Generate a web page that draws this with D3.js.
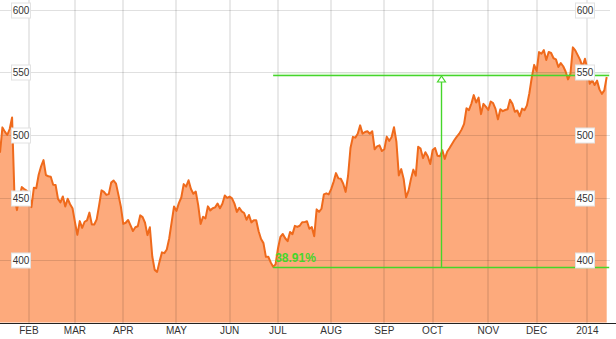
<!DOCTYPE html>
<html>
<head>
<meta charset="utf-8">
<script src="https://cdn.jsdelivr.net/npm/d3@7"></script>
<style>
html,body{margin:0;padding:0;background:#fff;}
svg{display:block;}
text{font-family:"Liberation Sans",Arial,sans-serif;}
</style>
</head>
<body>
<svg id="chart" width="616" height="339"></svg>
<script>
// Daily closing prices (trading days, mid-Jan 2013 to mid-Jan 2014)
const pricesJan13 = [485.9, 506.1, 502.7, 500.0, 504.8, 514.0, 450.5, 439.9, 449.8, 458.3, 456.8, 455.5];
const pricesFeb = [453.6, 442.3, 457.8, 457.4, 468.2, 475.0, 479.9, 467.9, 467.0, 466.6, 460.2, 460.0, 448.9, 446.1, 450.8, 442.8, 449.0, 444.6, 441.4];
const pricesMar = [430.5, 420.1, 431.1, 425.7, 430.6, 431.7, 437.9, 428.4, 428.4, 432.5, 443.7, 455.7, 454.5, 452.1, 452.7, 461.9, 463.6, 461.1, 452.1, 442.7];
const pricesApr = [428.9, 429.8, 432.0, 427.7, 423.2, 426.2, 427.0, 435.7, 434.3, 429.8, 419.9, 426.2, 402.8, 392.1, 390.5, 398.7, 406.1, 405.5, 408.4, 417.2, 430.1, 442.8];
const pricesMay = [439.3, 445.5, 450.0, 460.7, 458.7, 463.8, 456.8, 453.0, 454.7, 443.9, 428.9, 434.6, 433.3, 442.9, 439.7, 441.4, 442.1, 445.2, 441.4, 445.0, 451.6, 449.7];
const pricesJun = [450.7, 449.3, 445.1, 438.5, 441.8, 438.9, 437.6, 432.2, 436.0, 430.1, 431.8, 431.8, 423.0, 416.8, 413.5, 402.5, 402.6, 398.1, 394.6, 396.5];
const pricesJul = [409.2, 418.5, 420.8, 417.4, 415.1, 422.4, 420.7, 427.3, 426.5, 427.4, 430.2, 430.3, 431.0, 425.0, 426.3, 419.0, 440.5, 438.5, 441.0, 452.5, 453.3, 452.5];
const pricesAug = [456.7, 462.5, 469.5, 465.3, 465.0, 461.0, 454.5, 467.4, 489.6, 498.5, 497.9, 501.0, 507.7, 501.1, 502.4, 503.0, 501.0, 503.0, 488.6, 490.9, 491.7, 487.2];
const pricesSep = [488.6, 498.7, 495.3, 498.2, 506.2, 494.6, 467.7, 472.7, 464.9, 450.1, 455.3, 464.7, 472.3, 467.4, 490.6, 489.1, 481.5, 486.2, 482.8, 476.8];
const pricesOct = [488.0, 489.6, 483.4, 483.0, 487.8, 480.9, 486.6, 489.6, 492.8, 496.0, 498.7, 501.1, 504.5, 508.9, 521.4, 519.9, 525.0, 531.9, 526.0, 529.9, 516.7, 524.9, 522.7];
const pricesNov = [520.0, 526.8, 525.5, 520.9, 512.5, 520.6, 519.1, 520.0, 520.6, 528.2, 525.0, 518.6, 519.6, 515.0, 521.1, 519.8, 523.7, 533.4, 546.0, 556.1];
const pricesDec = [551.2, 566.3, 565.0, 567.9, 560.0, 566.4, 565.6, 561.4, 560.5, 554.4, 557.5, 555.0, 550.8, 544.5, 549.0, 570.1, 567.7, 563.9, 560.1, 554.5, 561.0];
const pricesJan14 = [553.1, 541.0, 543.9, 540.0, 543.5, 536.5, 532.9, 535.7, 546.4];

// Month ticks: label and index of first trading day of that month
const monthLabels = ["FEB", "MAR", "APR", "MAY", "JUN", "JUL", "AUG", "SEP", "OCT", "NOV", "DEC", "2014"];
const monthStartIndex = [12, 31, 51, 73, 95, 115, 137, 159, 179, 202, 222, 243];

// Y ticks
const yTicks = [400, 450, 500, 550, 600];

// Annotation (July low to latest level)
const annotStartIndex = 113;
const annotLow = 394.6;
const annotHigh = 548.1;
const annotLabel = "38.91%";

const prices = [].concat(pricesJan13, pricesFeb, pricesMar, pricesApr, pricesMay, pricesJun,
  pricesJul, pricesAug, pricesSep, pricesOct, pricesNov, pricesDec, pricesJan14);

const W = 616, H = 339;
const svg = d3.select("#chart");

const x = d3.scaleLinear().domain([0, prices.length - 1]).range([0, 606.7]);
const y = d3.scaleLinear().domain([350, 600]).range([322.5, 10]);

// Area fill
const area = d3.area().x((d, i) => x(i)).y0(y(350)).y1(d => y(d));
svg.append("path").datum(prices).attr("d", area).attr("fill", "#fdaa7c");

// Gridlines
const grid = svg.append("g");
grid.selectAll("line.v").data(monthStartIndex).enter().append("line")
  .attr("x1", d => Math.round(x(d))).attr("x2", d => Math.round(x(d)))
  .attr("y1", 0).attr("y2", 323)
  .attr("stroke", "rgba(0,0,0,0.085)").attr("stroke-width", 2);
grid.selectAll("line.h").data(yTicks).enter().append("line")
  .attr("x1", 0).attr("x2", 610)
  .attr("y1", d => Math.round(y(d)) + 0.5).attr("y2", d => Math.round(y(d)) + 0.5)
  .attr("stroke", "rgba(0,0,0,0.12)").attr("stroke-width", 1);

// Price line
const line = d3.line().x((d, i) => x(i)).y(d => y(d));
svg.append("path").datum(prices).attr("d", line)
  .attr("fill", "none").attr("stroke", "#ef6a1c").attr("stroke-width", 2)
  .attr("stroke-linejoin", "round");

// Bottom axis line
svg.append("line").attr("x1", 0).attr("x2", W).attr("y1", 323.5).attr("y2", 323.5)
  .attr("stroke", "#222").attr("stroke-width", 1);

// Month labels
svg.selectAll("text.month").data(monthStartIndex).enter().append("text")
  .attr("x", d => x(d)).attr("y", 334)
  .attr("text-anchor", "middle").attr("font-size", 10).attr("fill", "#333")
  .text((d, i) => monthLabels[i]);

// Annotation
const green = "#45d62a";
const ax0 = x(annotStartIndex), ax1 = x(prices.length - 1) + 2.5;
const axm = (ax0 + ax1) / 2;
const yLo = Math.round(y(annotLow)) + 0.5, yHi = Math.round(y(annotHigh)) + 0.5;
const ann = svg.append("g");
ann.append("rect").attr("x", ax0).attr("y", yHi - 3).attr("width", ax1 - ax0).attr("height", 3)
  .attr("fill", "rgba(69,214,42,0.12)");
ann.append("line").attr("x1", ax0).attr("x2", ax1).attr("y1", yHi).attr("y2", yHi)
  .attr("stroke", green).attr("stroke-width", 1.4);
ann.append("line").attr("x1", ax0).attr("x2", ax1).attr("y1", yLo).attr("y2", yLo)
  .attr("stroke", green).attr("stroke-width", 1.4);
const ta = Math.round(axm) + 0.5;
ann.append("line").attr("x1", ta).attr("x2", ta)
  .attr("y1", yLo).attr("y2", yHi + 6)
  .attr("stroke", green).attr("stroke-width", 1.4);
ann.append("path")
  .attr("d", `M${ta},${yHi + 0.5} L${ta - 4},${yHi + 6.5} L${ta + 4},${yHi + 6.5} Z`)
  .attr("fill", "#fff").attr("stroke", green).attr("stroke-width", 1.2);
ann.append("text").attr("x", ax0 + 2).attr("y", yLo - 5.5)
  .attr("font-size", 12).attr("font-weight", "bold").attr("fill", green)
  .text(annotLabel);

// Y labels (boxed, both sides)
const lab = svg.append("g");
[21, 585].forEach(cx => {
  const g = lab.selectAll(null).data(yTicks).enter().append("g")
    .attr("transform", d => `translate(${cx},${Math.round(y(d))})`);
  g.append("rect").attr("x", -9.5).attr("y", -7).attr("width", 19).attr("height", 15)
    .attr("fill", "#fff").attr("stroke", "#e2e2e2").attr("stroke-width", 1);
  g.append("text").attr("x", 0).attr("y", 4)
    .attr("text-anchor", "middle").attr("font-size", 10).attr("fill", "#333")
    .text(d => d);
});
</script>
</body>
</html>
